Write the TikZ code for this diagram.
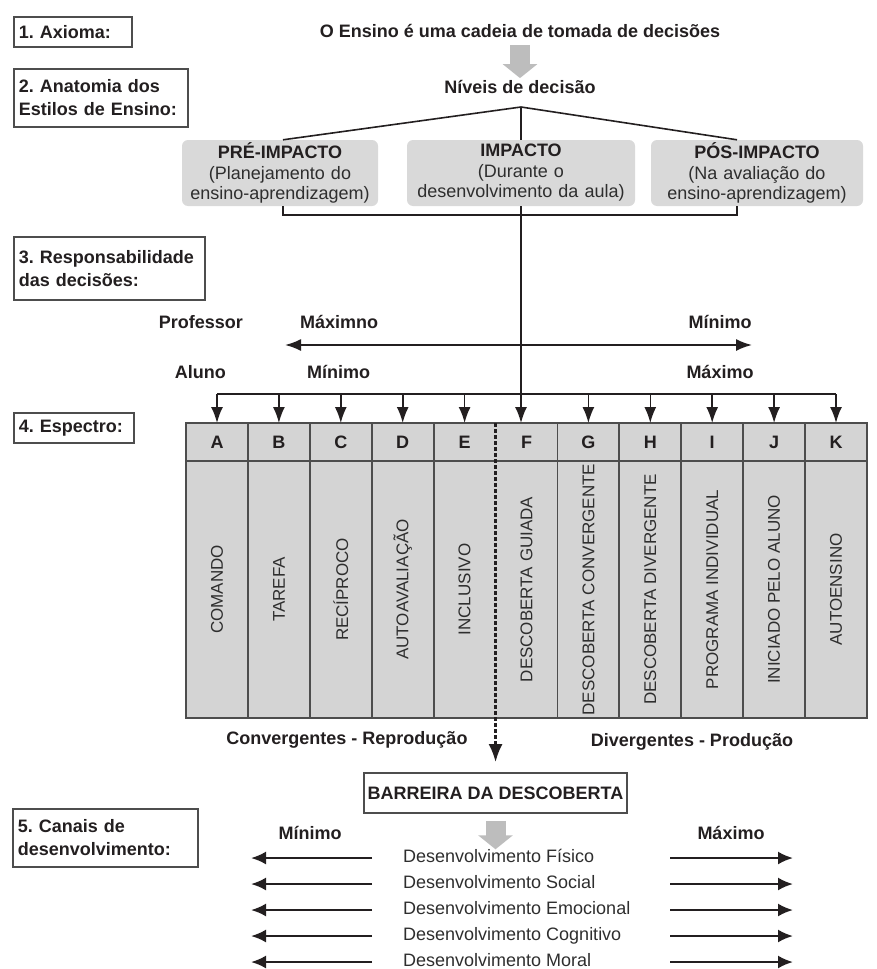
\documentclass[tikz,border=0pt]{standalone}
\usepackage{fontspec}
\setmainfont{Liberation Sans}
\usetikzlibrary{arrows.meta,positioning}
\frenchspacing
\hyphenpenalty=10000
\exhyphenpenalty=10000

\definecolor{inkdark}{HTML}{231F20}
\definecolor{inkgray}{HTML}{2E2E2E}
\definecolor{framegray}{HTML}{4D4D4D}
\definecolor{fillgray}{HTML}{D9D9D9}
\definecolor{cellgray}{HTML}{D4D4D4}
\definecolor{arrowgray}{HTML}{BDBDBD}

\newcommand\boldlbl{\fontsize{18}{23}\selectfont\bfseries}
\newcommand\plainlbl{\fontsize{18}{20.5}\selectfont}

\tikzset{
  stagebox/.style={draw=framegray, line width=1.8, fill=white, anchor=north west,
    inner xsep=5, inner ysep=2, align=left, font=\boldlbl, text=inkdark},
  levelbox/.style={fill=fillgray, rounded corners=6, minimum height=66, inner sep=2,
    align=center, font=\plainlbl, text=inkgray},
  textlbl/.style={font=\boldlbl, text=inkdark, inner sep=2},
  fatarrow/.style={draw=arrowgray, line width=20, -{Triangle[width=34pt,length=14pt]}},
  linkline/.style={draw=inkdark, line width=1.6},
  feedarrow/.style={draw=inkdark, line width=1.6, -{Latex[length=16pt,width=12pt]}},
  spanarrow/.style={draw=inkdark, line width=1.8, {Latex[length=16pt,width=12pt]}-{Latex[length=16pt,width=12pt]}},
  hdrcell/.style={draw=framegray, line width=1.8, fill=cellgray, minimum width=61.9,
    minimum height=38, inner sep=0, outer sep=0, font=\boldlbl, text=inkdark},
  stylecell/.style={draw=framegray, line width=1.8, fill=cellgray, minimum width=61.9,
    minimum height=257, inner sep=0, outer sep=0},
  stylename/.style={rotate=90, font=\fontsize{17}{20}\selectfont, text=inkgray, inner sep=0},
  barrierline/.style={draw=inkdark, line width=2.4, dash pattern=on 4pt off 2pt,
    -{Latex[length=18pt,width=14pt]}},
  devarrow/.style={draw=inkdark, line width=2.2, -{Latex[length=15pt,width=13pt]}},
  devtext/.style={font=\fontsize{18}{20}\selectfont, text=inkgray, anchor=west, inner sep=0,
    text height=13, text depth=4}
}

\begin{document}
\begin{tikzpicture}[x=1pt,y=-1pt]
\useasboundingbox (0,0) rectangle (877,969);

% 1. Stage boxes on the left
\node[stagebox, minimum width=118, minimum height=30, text width=108] (ax) at (13,16) {1. Axioma:};
\node[stagebox, minimum width=174, minimum height=58, text width=164] (anat) at (13,68) {2. Anatomia dos\\Estilos de Ensino:};
\node[stagebox, minimum width=191, minimum height=63, text width=181] (resp) at (13,236) {3. Responsabilidade\\das decisões:};
\node[stagebox, minimum width=120, minimum height=30, text width=110] (espec) at (13,412) {4. Espectro:};
\node[stagebox, minimum width=185, minimum height=58, text width=175] (canais) at (12,808) {5. Canais de\\desenvolvimento:};

% 2. Axiom and decision levels
\node[textlbl] (title) at (520,31) {O Ensino é uma cadeia de tomada de decisões};
\node[textlbl] (niveis) at (520,87) {Níveis de decisão};
\draw[fatarrow, shorten <=5pt] (title.south) -- (niveis.north);

\node[levelbox, minimum width=196, text width=192] (pre) at (280,173)
  {{\bfseries\color{inkdark}PRÉ-IMPACTO}\\(Planejamento do\\ensino-aprendizagem)};
\node[levelbox, minimum width=228, text width=224] (imp) at (521,173)
  {{\bfseries\color{inkdark}IMPACTO}\\(Durante o\\desenvolvimento da aula)};
\node[levelbox, minimum width=212, text width=208] (pos) at (757,173)
  {{\bfseries\color{inkdark}PÓS-IMPACTO}\\(Na avaliação do\\ensino-aprendizagem)};

\coordinate (apex) at (521,107);
\coordinate (brL) at (283,215);
\coordinate (brR) at (737,215);
\draw[linkline] (apex) -- (pre.north -| brL);
\draw[linkline] (apex) -- (imp.north);
\draw[linkline] (apex) -- (pos.north -| brR);
\draw[linkline] (pre.south -| brL) -- (brL) -- (brR) -- (pos.south -| brR);

% 3. Responsibility of the decisions
\node[textlbl, anchor=east] (prof) at (245,322) {Professor};
\node[textlbl, anchor=west] (maxTop) at (298,322) {Máximno};
\node[textlbl] (minTop) at (720,322) {Mínimo};
\node[textlbl, anchor=east] (aluno) at (228,372) {Aluno};
\node[textlbl, anchor=west] (minBot) at (305,372) {Mínimo};
\node[textlbl] (maxBot) at (720,372) {Máximo};
\coordinate (spanL) at (285,345);
\coordinate (spanR) at (752,345);
\draw[spanarrow] (spanL) -- (spanR);

% 4. The spectrum of styles
\foreach \col/\name [count=\i from 0] in {A/COMANDO, B/TAREFA, C/RECÍPROCO, D/AUTOAVALIAÇÃO,
    E/INCLUSIVO, F/DESCOBERTA GUIADA, G/DESCOBERTA CONVERGENTE, H/DESCOBERTA DIVERGENTE,
    I/PROGRAMA INDIVIDUAL, J/INICIADO PELO ALUNO, K/AUTOENSINO}{
  \node[hdrcell] (hdr\col) at ({217+61.9*\i},442) {\col};
  \node[stylecell, below=0pt of hdr\col] (sty\col) {};
  \node[stylename] (lab\col) at (sty\col) {\name};
}

\coordinate (feed) at (0,394);
\draw[linkline] (hdrA |- feed) -- (hdrK |- feed);
\foreach \col in {A,B,C,D,E,G,H,I,J,K}
  \draw[feedarrow] (hdr\col |- feed) -- (hdr\col.north);
\draw[feedarrow] (imp.south) -- (imp.south |- hdrF.north);

\node[textlbl] (conv) at (347,740) {Convergentes - Reprodução};
\node[textlbl] (diverg) at (692,742) {Divergentes - Produção};

% barrier between the two clusters
\node[draw=framegray, line width=1.8, fill=white, minimum width=261, minimum height=40,
  font=\boldlbl, text=inkdark] (barreira) at (495.5,793) {BARREIRA DA DESCOBERTA};
\draw[cellgray, line width=2.6, shorten <=1pt, shorten >=1pt] (hdrE.north east) -- (styE.south east);
\draw[barrierline, shorten >=10pt] (hdrE.north east) -- (hdrE.north east |- barreira.north);

% 5. Developmental channels
\node[textlbl] (minDev) at (310,833) {Mínimo};
\node[textlbl] (maxDev) at (731,833) {Máximo};
\coordinate (lstart) at (372,0);
\coordinate (lend) at (251,0);
\coordinate (rstart) at (670,0);
\coordinate (rend) at (793,0);
\foreach \name [count=\i from 0] in {Físico, Social, Emocional, Cognitivo, Moral}{
  \node[devtext] (dev\i) at (403,{858+26*\i}) {Desenvolvimento \name};
  \draw[devarrow] (dev\i -| lstart) -- (dev\i -| lend);
  \draw[devarrow] (dev\i -| rstart) -- (dev\i -| rend);
}
\draw[fatarrow, shorten <=7pt] (barreira.south) -- (barreira.south |- dev0.north);

\end{tikzpicture}
\end{document}
